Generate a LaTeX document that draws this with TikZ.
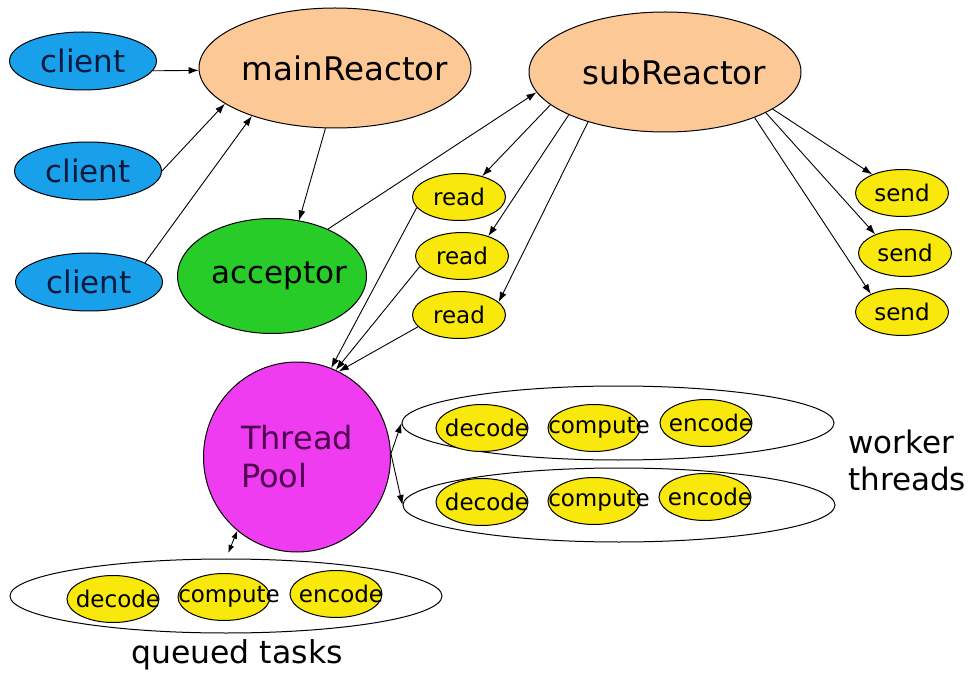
\documentclass[tikz,border=0pt]{standalone}
\usepackage{fontspec}
\setmainfont{DejaVu Sans}
\usetikzlibrary{shapes.geometric,arrows.meta}
\definecolor{clientblue}{RGB}{24,160,235}
\definecolor{clienttext}{RGB}{10,25,60}
\definecolor{reactorpeach}{RGB}{252,200,150}
\definecolor{acceptorgreen}{RGB}{40,204,40}
\definecolor{taskyellow}{RGB}{248,232,12}
\definecolor{poolmagenta}{RGB}{240,60,240}
\definecolor{pooltext}{RGB}{80,0,80}
% text that does not widen its ellipse
\newcommand\offtext[2][16pt]{\hbox to 0pt{\hss\kern#1\relax#2\hss}}
\begin{document}
\begin{tikzpicture}[x=1pt,y=-1pt,
    bigtext/.style={font=\fontsize{31}{37}\selectfont},
    smalltext/.style={font=\fontsize{23}{27}\selectfont},
    client/.style={ellipse,draw,line width=1pt,fill=clientblue,text=clienttext,bigtext,minimum width=147pt,minimum height=58pt,inner sep=0pt},
    reactor/.style={ellipse,draw,line width=1pt,fill=reactorpeach,font=\fontsize{32.5}{38}\selectfont,minimum width=272pt,minimum height=120pt,inner sep=0pt},
    ioevent/.style={ellipse,draw,line width=1pt,fill=taskyellow,smalltext,minimum width=93pt,minimum height=47pt,inner sep=0pt},
    task/.style={ellipse,draw,line width=1pt,fill=taskyellow,smalltext,minimum width=92pt,minimum height=47pt,inner sep=0pt},
    taskgroup/.style={ellipse,draw,line width=1pt,minimum width=432pt,minimum height=74pt,inner sep=0pt},
    arr/.style={-{Latex[length=10pt,width=7pt]},line width=0.9pt}]
    \useasboundingbox (0,0) rectangle (980,676);
    % reactors and clients
    \node[client] (c1) at (83,61) {client};
    \node[client] (c2) at (88,171) {client};
    \node[client] (c3) at (89,282) {client};
    \node[reactor] (mr) at (335,68) {\offtext[20pt]{mainReactor}};
    \node[reactor] (sr) at (665,72) {\offtext[19pt]{subReactor}};
    \node[ellipse,draw,line width=1pt,fill=acceptorgreen,bigtext,minimum width=189pt,minimum height=115pt,inner sep=0pt] (acc) at (272,276) {\offtext[15pt]{acceptor}};
    \node[ioevent] (r1) at (459,197) {read};
    \node[ioevent] (r2) at (462,256) {read};
    \node[ioevent] (r3) at (459,315) {read};
    \node[ioevent] (s1) at (902,193) {send};
    \node[ioevent] (s2) at (905,253) {send};
    \node[ioevent] (s3) at (902,312) {send};
    % thread pool
    \node[ellipse,draw,line width=1pt,fill=poolmagenta,text=pooltext,font=\fontsize{32}{38}\selectfont,minimum width=187pt,minimum height=190pt,inner sep=0pt,align=left] (tp) at (297,457) {Thread\\Pool};
    \node[taskgroup] (w1) at (618,423) {};
    \node[taskgroup] (w2) at (619,505) {};
    \node[taskgroup] (q) at (226,596) {};
    \node[task] (w1d) at (482,428) {\offtext[10pt]{decode}};
    \node[task] (w1c) at (594,428) {\offtext[10pt]{compute}};
    \node[task] (w1e) at (706,423) {\offtext[10pt]{encode}};
    \node[task] (w2d) at (482,502) {\offtext[10pt]{decode}};
    \node[task] (w2c) at (594,501) {\offtext[10pt]{compute}};
    \node[task] (w2e) at (705,497) {\offtext[10pt]{encode}};
    \node[task] (qd) at (113,599) {\offtext[10pt]{decode}};
    \node[task] (qc) at (224,597) {\offtext[10pt]{compute}};
    \node[task] (qe) at (336,594) {\offtext[10pt]{encode}};
    \node[bigtext,align=left,anchor=west,inner sep=0pt] (wt) at (848,460) {worker\\threads};
    \node[font=\fontsize{31.5}{37}\selectfont,inner sep=0pt] (qt) at (237,655) {queued tasks};
    % connections
    \draw[arr] (c1.-8) -- (mr.181);
    \draw[arr] (c2.east) -- (mr.198);
    \draw[arr] (c3.19) -- (mr.210);
    \draw[arr] (mr.261) -- (acc.64);
    \draw[arr] (acc.40) -- (sr.189);
    \draw[arr] (sr.196) -- (r1.42);
    \draw[arr] (sr.204) -- (r2.37);
    \draw[arr] (sr.213) -- (r3.18);
    \draw[arr] (r1.194) -- (tp.69);
    \draw[arr] (r2.194) -- (tp.66);
    \draw[arr] (r3.196) -- (tp.64);
    \draw[arr] (sr.-19) -- (s1.148);
    \draw[arr] (sr.-22) -- (s2.148);
    \draw[arr] (sr.-27) -- (s3.150);
    \draw[arr] (tp.2) -- (w1.west);
    \draw[arr] (tp.2) -- (w2.west);
    \draw[{Latex[length=8pt,width=6pt]}-{Latex[length=8pt,width=6pt]},line width=0.9pt,shorten >=6pt] (tp.231) -- (q.north);
\end{tikzpicture}
\end{document}
